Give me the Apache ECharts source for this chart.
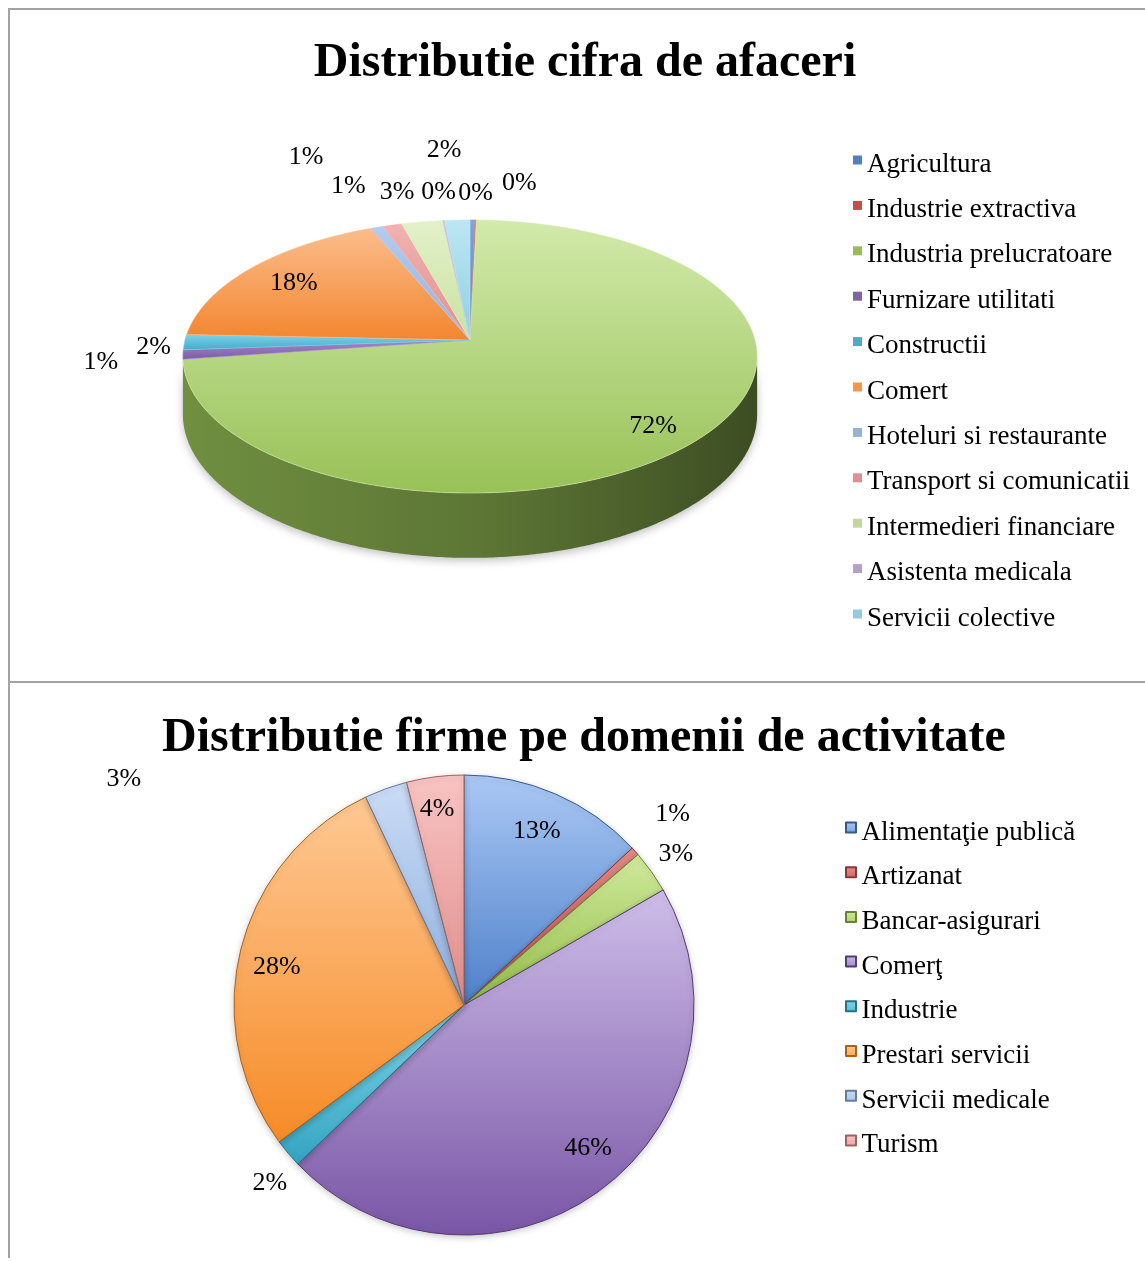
<!DOCTYPE html>
<html>
<head>
<meta charset="utf-8">
<title>Distributie cifra de afaceri / firme pe domenii de activitate</title>
<script src="https://cdn.jsdelivr.net/npm/echarts@6/dist/echarts.min.js"></script>
<style>
	html, body { margin: 0; padding: 0; background: #fff; }
	#chart { width: 1145px; height: 1261px; }
</style>
</head>
<body>
<div id="chart"></div>
<script>
( function () {
	"use strict";

	/*----- data: cifra de afaceri (3D pie) -----*/
	var afaceriNames = ['Agricultura', 'Industrie extractiva', 'Industria prelucratoare', 'Furnizare utilitati',
		'Constructii', 'Comert', 'Hoteluri si restaurante', 'Transport si comunicatii',
		'Intermedieri financiare', 'Asistenta medicala', 'Servicii colective'];
	var afaceriValues = [0.3, 0.1, 72.2, 1.1, 1.8, 18, 0.8, 1.2, 2.6, 0.1, 1.6];

	/*----- data: firme pe domenii (flat pie) -----*/
	var firmeNames = ['Alimentaţie publică', 'Artizanat', 'Bancar-asigurari', 'Comerţ',
		'Industrie', 'Prestari servicii', 'Servicii medicale', 'Turism'];
	var firmeValues = [13, 0.6, 3, 46, 2, 28, 3, 4];

	/*----- styles -----*/
	// legend colour, light and dark end of the face gradient
	var afaceriColors = ['#4f81bd', '#c0504d', '#9bbb59', '#8064a2', '#4bacc6', '#f79646',
		'#95b3d7', '#e0908e', '#c3d69b', '#b3a2c7', '#93cddd'];
	var afaceriFace = [['#7ea6de', '#4f81bd'], ['#d9807d', '#c0504d'], ['#d2eaab', '#98c157'], ['#a58bc9', '#7c5ca5'],
		['#7fd3e8', '#42abc8'], ['#fbbd8c', '#f2862f'], ['#b4cbef', '#94b2de'], ['#f1b3b1', '#e18f8d'],
		['#e3f1c9', '#c9e2a0'], ['#cdbfe0', '#b3a2c7'], ['#bde6f2', '#8fd0e3']];
	var firmeFace = [['#abc8f4', '#4d80c9'], ['#e58b87', '#c0504d'], ['#d0e99d', '#92bd47'], ['#cebee9', '#7a56a6'],
		['#80d7eb', '#34a3c1'], ['#fec994', '#f68b27'], ['#cadcf6', '#8fafde'], ['#f8c4c3', '#df8d8b']];

	// label placement: [radius fraction, dx, dy] from the slice middle
	var afaceriLabelSpot = [[1, 47, -37], [1, 0, -27], [0.8, 1, 10], [1, -82, 8], [1, -31, 5], [0.78, -3, 0],
		[1, -71, -70], [1, -44, -39], [1, -25, -30], [1, -5, -28], [1, -13, -70]];
	var firmeLabelSpot = [[0.826, -3, 0], [1.23, -2, -2], [1.13, 0, 0], [0.826, 10, -9], [1.15, 8, 8],
		[0.826, -3, 8], [1, -262, -10], [0.857, -2, 0]];

	var FONT = "'Liberation Serif', 'Times New Roman', serif";
	var TAU = Math.PI * 2;
	// square sitting in the upper half of the icon box, like the Excel legend keys
	var KEY_ICON = 'path://M0,0L10,0L10,10L0,10Z M0,20';

	function mix(hex, target, t) {
		var n = parseInt(hex.slice(1), 16);
		var r = n >> 16, g = (n >> 8) & 255, b = n & 255;
		r = Math.round(r + (target - r) * t);
		g = Math.round(g + (target - g) * t);
		b = Math.round(b + (target - b) * t);
		return 'rgb(' + r + ',' + g + ',' + b + ')';
	}
	function shade(hex, f) { return mix(hex, 0, 1 - f); }

	function cumulative(values) {
		var total = 0, start = [];
		values.forEach(function (v) { start.push(total); total += v; });
		return { start: start, total: total };
	}

	/*----- 3D pie geometry -----*/
	var pie3d = { cx: 470, cy: 340, rx: 285, ry: 134.5, persp: 0.121, depth: 57 };
	var frontFrom = Math.acos(-pie3d.persp);
	var frontTo = TAU - frontFrom;

	function project(angle, r, drop) {
		var X = r * Math.sin(angle), Z = r * Math.cos(angle);
		var s = 1 / (1 + pie3d.persp * Z);
		return [pie3d.cx + pie3d.rx * X * s, pie3d.cy - pie3d.ry * Z * s + drop * s];
	}
	function rim(a0, a1, drop) {
		var n = Math.max(2, Math.ceil((a1 - a0) / 0.01));
		var pts = [];
		for (var k = 0; k <= n; k++) {
			pts.push(project(a0 + (a1 - a0) * k / n, 1, drop));
		}
		return pts;
	}

	var afaceriCum = cumulative(afaceriValues);

	function renderSlice(params, api) {
		var i = api.value(2);
		var a0 = api.value(0) * TAU, a1 = api.value(1) * TAU;
		var face = afaceriFace[i];
		var children = [];

		var w0 = Math.max(a0, frontFrom), w1 = Math.min(a1, frontTo);
		if (w1 > w0) {
			var wall = rim(w0, w1, 0).concat(rim(w0, w1, pie3d.depth).reverse());
			children.push({
				type: 'polygon',
				shape: { points: wall },
				style: {
					fill: new echarts.graphic.LinearGradient(0, 0, 1, 0, [
						{ offset: 0, color: shade(face[1], 0.74) },
						{ offset: 0.55, color: shade(face[1], 0.6) },
						{ offset: 1, color: shade(face[1], 0.4) }
					]),
					shadowBlur: 8,
					shadowOffsetY: 3,
					shadowColor: 'rgba(0,0,0,0.25)'
				},
				z2: 1
			});
		}

		var top = [project(0, 0, 0)].concat(rim(a0, a1, 0));
		children.push({
			type: 'polygon',
			shape: { points: top },
			style: {
				fill: new echarts.graphic.LinearGradient(0, 0, 0, 1, [
					{ offset: 0, color: face[0] },
					{ offset: 1, color: face[1] }
				]),
				stroke: face[0],
				lineWidth: 0.6
			},
			z2: 5
		});

		var spot = afaceriLabelSpot[i];
		var p = project((a0 + a1) / 2, spot[0], 0);
		children.push({
			type: 'text',
			x: p[0] + spot[1],
			y: p[1] + spot[2],
			style: {
				text: Math.round(afaceriValues[i] / afaceriCum.total * 100) + '%',
				fill: '#000',
				fontFamily: FONT,
				fontSize: 26,
				align: 'center',
				verticalAlign: 'middle'
			},
			z2: 100
		});

		return { type: 'group', children: children };
	}

	var afaceriSeries = afaceriNames.map(function (name, i) {
		return {
			type: 'custom',
			name: name,
			coordinateSystem: 'none',
			itemStyle: { color: afaceriColors[i] },
			data: [[afaceriCum.start[i] / afaceriCum.total,
				(afaceriCum.start[i] + afaceriValues[i]) / afaceriCum.total, i]],
			renderItem: renderSlice
		};
	});

	/*----- flat pie -----*/
	var firmePie = { cx: 464, cy: 1005, r: 230 };
	var firmeCum = cumulative(firmeValues);

	var firmeSeries = {
		type: 'pie',
		name: 'firme',
		center: [firmePie.cx, firmePie.cy],
		radius: firmePie.r,
		startAngle: 90,
		clockwise: true,
		avoidLabelOverlap: false,
		percentPrecision: 0,
		data: firmeNames.map(function (name, i) {
			var f = firmeFace[i];
			return {
				name: name,
				value: firmeValues[i],
				itemStyle: {
					color: new echarts.graphic.LinearGradient(0, 0, 0, 1, [
						{ offset: 0, color: f[0] },
						{ offset: 1, color: f[1] }
					]),
					borderColor: shade(f[1], 0.7),
					borderWidth: 1
				}
			};
		}),
		itemStyle: {
			shadowBlur: 6,
			shadowOffsetY: 2,
			shadowColor: 'rgba(0,0,0,0.2)'
		},
		label: {
			show: true,
			position: 'outside',
			formatter: '{d}%',
			color: '#000',
			fontFamily: FONT,
			fontSize: 26
		},
		labelLine: { show: false },
		labelLayout: function (params) {
			var i = params.dataIndex;
			var spot = firmeLabelSpot[i];
			var mid = (firmeCum.start[i] + firmeValues[i] / 2) / firmeCum.total * TAU;
			return {
				x: firmePie.cx + firmePie.r * spot[0] * Math.sin(mid) + spot[1],
				y: firmePie.cy - firmePie.r * spot[0] * Math.cos(mid) + spot[2],
				align: 'center',
				verticalAlign: 'middle'
			};
		}
	};

	var legendText = { fontFamily: FONT, fontSize: 27, lineHeight: 27, color: '#000' };

	var option = {
		animation: false,
		backgroundColor: '#fff',
		textStyle: { fontFamily: FONT },
		title: [
			{
				text: 'Distributie cifra de afaceri',
				left: 585, top: 64, padding: 0,
				textAlign: 'center', textVerticalAlign: 'middle',
				textStyle: { fontFamily: FONT, fontSize: 48, fontWeight: 'bold', color: '#000' }
			},
			{
				text: 'Distributie firme pe domenii de activitate',
				left: 584, top: 739, padding: 0,
				textAlign: 'center', textVerticalAlign: 'middle',
				textStyle: { fontFamily: FONT, fontSize: 48, fontWeight: 'bold', color: '#000' }
			}
		],
		legend: [
			{
				data: afaceriNames,
				orient: 'vertical',
				left: 853, top: 151, padding: 0,
				icon: KEY_ICON, itemWidth: 9, itemHeight: 18, itemGap: 18.4,
				selectedMode: false,
				textStyle: legendText
			},
			{
				data: firmeNames,
				orient: 'vertical',
				left: 845, top: 819, padding: 0,
				icon: KEY_ICON, itemWidth: 11, itemHeight: 20, itemGap: 17.7,
				selectedMode: false,
				textStyle: legendText
			}
		],
		graphic: [
			{ type: 'line', shape: { x1: 8, y1: 9, x2: 1145, y2: 9 }, style: { stroke: '#a3a3a3', lineWidth: 2 } },
			{ type: 'line', shape: { x1: 9, y1: 8, x2: 9, y2: 1258 }, style: { stroke: '#a3a3a3', lineWidth: 2 } },
			{ type: 'line', shape: { x1: 8, y1: 682, x2: 1145, y2: 682 }, style: { stroke: '#a3a3a3', lineWidth: 2 } }
		],
		series: afaceriSeries.concat([firmeSeries])
	};

	var chart = echarts.init(document.getElementById('chart'));
	chart.setOption(option);
	window.addEventListener('resize', function () {
		chart.resize();
	});
})();
</script>
</body>
</html>
